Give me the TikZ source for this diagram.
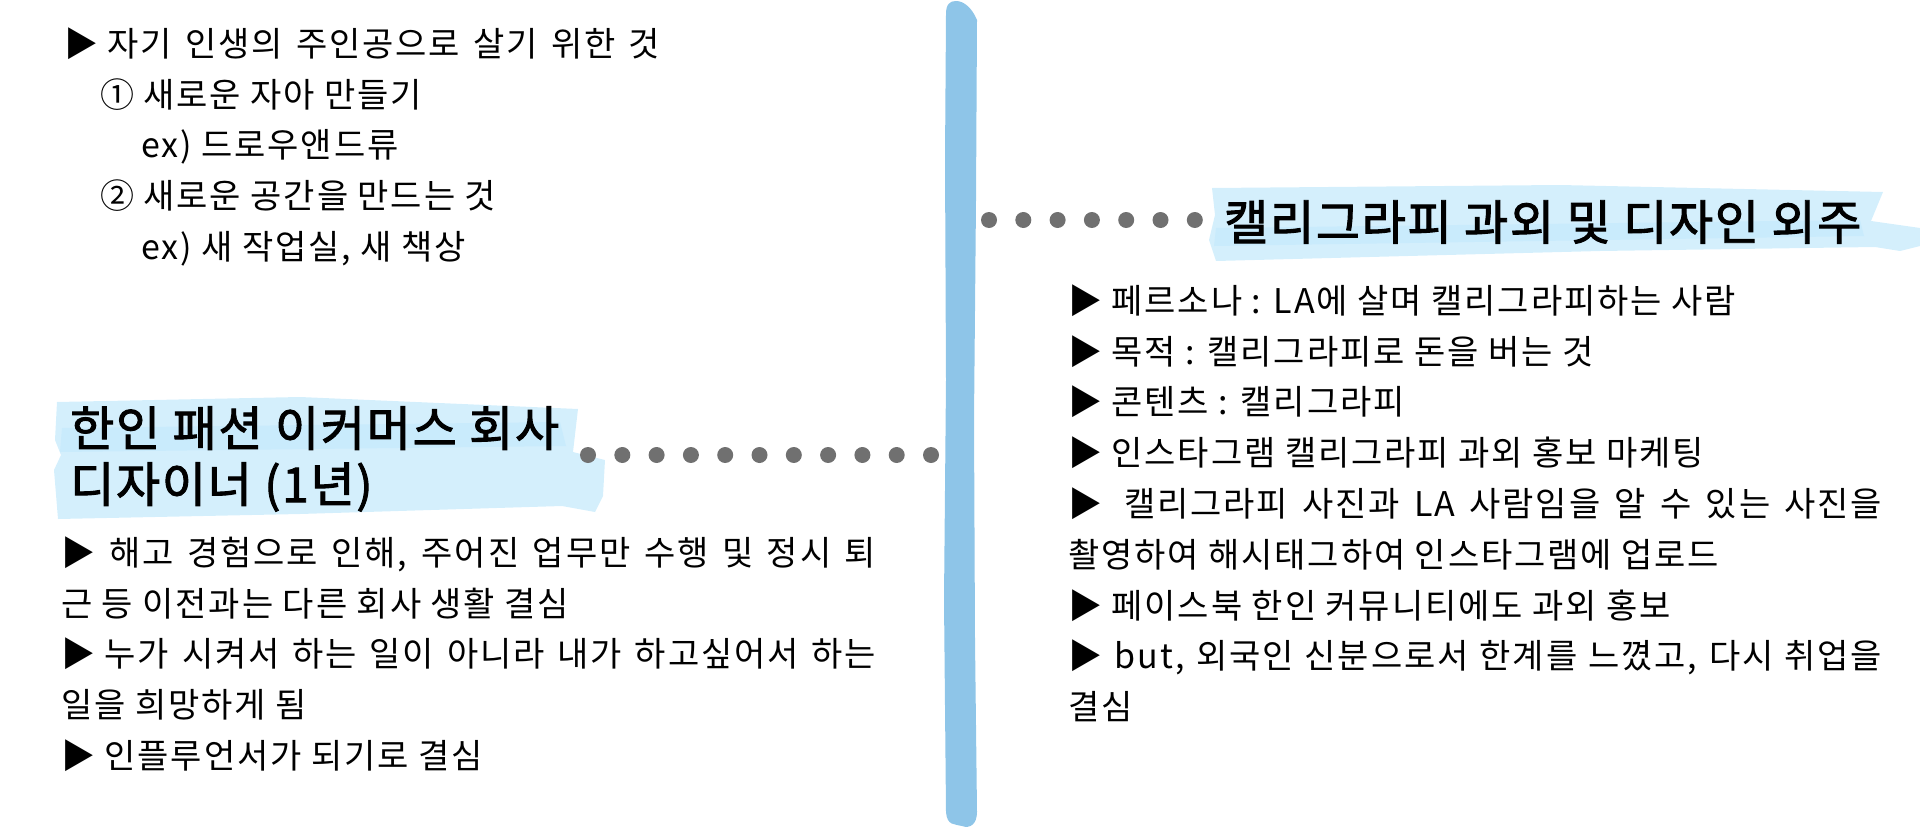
\documentclass[tikz,border=0pt]{standalone}
\usepackage{fontspec}
\setmainfont{Noto Sans CJK KR}
\newfontfamily\bodyfont[LetterSpace=5.5]{Noto Sans CJK KR}
\newfontfamily\headfont[LetterSpace=3.5, FakeBold=2]{Noto Sans CJK KR}
\usetikzlibrary{positioning}
\definecolor{barblue}{RGB}{142,197,232}
\definecolor{markblue}{RGB}{212,239,252}
\definecolor{markmid}{RGB}{201,235,252}
\definecolor{dotgray}{RGB}{112,112,112}
\newcommand\spreadline[2]{\makebox[#1][s]{#2}}

\begin{document}
\begin{tikzpicture}[x=1pt, y=-1pt, node distance=16.4pt,
    every node/.style={inner sep=0pt, font=\bodyfont\fontsize{34}{50}\selectfont},
    txt/.style={anchor=north west, text height=26pt, text depth=8pt},
    headtxt/.style={anchor=west, align=left, font=\headfont\fontsize{48}{56}\selectfont},
    dotrow/.style={dotgray, line width=16pt, line cap=round, dash pattern=on 0pt off 34.3pt}]
    \useasboundingbox (0,0) rectangle (1920,835);

    % brush marks
    \fill[markblue] (57,402) -- (300,397) -- (578,409) -- (573,452) -- (605,460) -- (603,496) -- (595,512) -- (562,506) -- (300,514) -- (58,519) -- (54,470) -- (61,455) -- (55,440) -- cycle;
    \fill[markmid] (62,428) -- (560,422) -- (566,446) -- (60,452) -- cycle;
    \coordinate (bar-r) at (989,220);
    \coordinate (calli-in) at (1229.5,220);
    \draw[dotrow] (bar-r) -- (calli-in);
    \fill[markblue] (1212,188) -- (1560,185) -- (1883,192) -- (1871,221) -- (1920,228) -- (1920,246) -- (1900,251) -- (1875,247) -- (1600,251) -- (1216,261) -- (1209,240) -- (1215,215) -- cycle;
    \fill[markmid] (1216,228) -- (1860,220) -- (1864,236) -- (1214,246) -- cycle;

    % time line
    \fill[barblue] (946,14) .. controls (946,4) and (950,1) .. (956,1) .. controls (964,1) and (972,8) .. (977,20) -- (976,200) -- (974,420) -- (975,640) -- (977,812) .. controls (977,824) and (970,829) .. (962,826) .. controls (955,824) and (947,826) .. (946,812) -- (944,600) -- (946,380) -- (945,160) -- cycle;

    % left side
    \node [txt] (goal) at (64,30) {\spreadline{596pt}{▶\hspace{9.5pt}자기 인생의 주인공으로 살기 위한 것}};
    \node [below=of goal.south west, txt, xshift=36pt] (self) {① 새로운 자아 만들기};
    \node [below=of self.south west, txt, xshift=41pt] (selfex) {ex) 드로우앤드류};
    \node [below=of selfex.south west, txt, xshift=-41pt] (room) {② 새로운 공간을 만드는 것};
    \node [below=of room.south west, txt, xshift=41pt] (roomex) {ex) 새 작업실, 새 책상};

    \node [headtxt] (design) at (70,459) {한인 패션 이커머스 회사\\디자이너 (1년)};
    \coordinate (design-out) at (588,455);
    \coordinate (bar-l) at (931.5,455);
    \draw[dotrow] (design-out) -- (bar-l);

    \node [txt] (fired) at (61,539) {\spreadline{815pt}{▶\hspace{14pt}해고 경험으로 인해, 주어진 업무만 수행 및 정시 퇴}};
    \node [below=of fired.south west, txt] (fired2) {근 등 이전과는 다른 회사 생활 결심};
    \node [below=of fired2.south west, txt] (wish) {\spreadline{815pt}{▶\hspace{9.5pt}누가 시켜서 하는 일이 아니라 내가 하고싶어서 하는}};
    \node [below=of wish.south west, txt] (wish2) {일을 희망하게 됨};
    \node [below=of wish2.south west, txt] (influ) {▶ 인플루언서가 되기로 결심};

    % right side
    \node [headtxt] (calli) at (1224,222) {캘리그라피 과외 및 디자인 외주};

    \node [txt] (persona) at (1068,287) {▶ 페르소나 : LA에 살며 캘리그라피하는 사람};
    \node [below=of persona.south west, txt] (purpose) {▶ 목적 : 캘리그라피로 돈을 버는 것};
    \node [below=of purpose.south west, txt] (content) {▶ 콘텐츠 : 캘리그라피};
    \node [below=of content.south west, txt] (insta) {▶ 인스타그램 캘리그라피 과외 홍보 마케팅};
    \node [below=of insta.south west, txt] (photo) {\spreadline{814pt}{▶\hspace{22pt}캘리그라피 사진과 LA 사람임을 알 수 있는 사진을}};
    \node [below=of photo.south west, txt] (photo2) {촬영하여 해시태그하여 인스타그램에 업로드};
    \node [below=of photo2.south west, txt] (fb) {▶ 페이스북 한인 커뮤니티에도 과외 홍보};
    \node [below=of fb.south west, txt] (but) {\spreadline{814pt}{▶\hspace{12.5pt}but, 외국인 신분으로서 한계를 느꼈고, 다시 취업을}};
    \node [below=of but.south west, txt] (but2) {결심};
\end{tikzpicture}
\end{document}
